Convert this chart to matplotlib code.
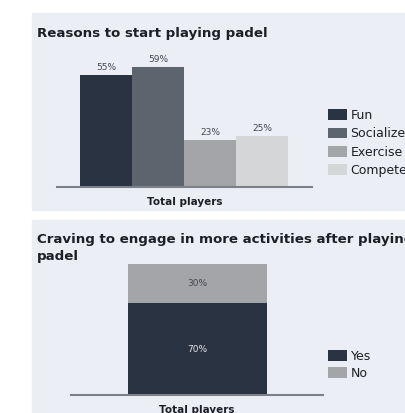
import matplotlib
matplotlib.use("Agg")
import matplotlib.pyplot as plt
from matplotlib.patches import Rectangle, Patch

plt.rcParams['font.family'] = ['DejaVu Sans']

# ---- data ----
reasons = ["Fun", "Socialize", "Exercise", "Compete"]
reason_values = [55, 59, 23, 25]
reason_colors = ["#2a3341", "#5c646e", "#a3a5a8", "#d5d6d7"]

craving_labels = ["Yes", "No"]
craving_values = [70, 30]
craving_colors = ["#2a3341", "#a3a5a8"]
group_label = "Total players"

W, H = 405, 413
fig = plt.figure(figsize=(W / 100, H / 100), dpi=100)
fig.patch.set_facecolor("white")

def fx(x):
    return x / W

def fy(y):
    return 1 - y / H

panel_bg = "#eceef5"
fig.patches.append(Rectangle((fx(32), fy(210)), fx(405) - fx(32), fy(13) - fy(210),
                             transform=fig.transFigure, color=panel_bg, zorder=-5))
fig.patches.append(Rectangle((fx(32), fy(413)), fx(405) - fx(32), fy(220) - fy(413),
                             transform=fig.transFigure, color=panel_bg, zorder=-5))

text_dark = "#1e1f24"
axis_col = "#7b8089"
label_col = "#45484f"

# ---- panel 1 ----
px_per = 2.03
ymax1 = 62
ax1 = fig.add_axes([fx(57), fy(187), fx(312) - fx(57), (ymax1 * px_per) / H])
ax1.set_facecolor("none")
xs = list(range(len(reasons)))
ax1.bar(xs, reason_values, width=1.0, color=reason_colors, zorder=2)
for x, v in zip(xs, reason_values):
    ax1.text(x, v + 1.6, f"{v}%", ha="center", va="bottom", fontsize=6.5, color=label_col)
ax1.set_xlim(-0.94, 3.96)
ax1.set_ylim(0, ymax1)
for s in ["top", "right", "left"]:
    ax1.spines[s].set_visible(False)
ax1.spines["bottom"].set_color(axis_col)
ax1.spines["bottom"].set_linewidth(1.5)
ax1.set_yticks([])
ax1.set_xticks([])
ax1.set_xlabel(group_label, fontsize=7.5, fontweight="bold", color=text_dark, labelpad=7)

fig.text(fx(37), fy(33), "Reasons to start playing padel", fontsize=9.6, fontweight="bold",
         color=text_dark, ha="left", va="center")

handles1 = [Patch(facecolor=c, edgecolor="none") for c in reason_colors]
ax1.legend(handles1, reasons, loc="upper left", bbox_to_anchor=(fx(328), fy(109)),
           bbox_transform=fig.transFigure, frameon=False, fontsize=9,
           handlelength=1.55, handleheight=0.95, labelspacing=0.42, handletextpad=0.25,
           borderpad=0, borderaxespad=0, labelcolor=text_dark)

# ---- panel 2 ----
px_per2 = 1.31
ax2 = fig.add_axes([fx(71), fy(395), fx(323) - fx(71), (100 * px_per2) / H])
ax2.set_facecolor("none")
bottom = 0
label_cols = ["#e6e6ea", label_col]
for v, c, lc in zip(craving_values, craving_colors, label_cols):
    ax2.bar([0], [v], bottom=bottom, width=1.0, color=c, zorder=2)
    ax2.text(0, bottom + v / 2, f"{v}%", ha="center", va="center", fontsize=6.5, color=lc)
    bottom += v
ax2.set_xlim(-0.91, 0.90)
ax2.set_ylim(0, 100)
for s in ["top", "right", "left"]:
    ax2.spines[s].set_visible(False)
ax2.spines["bottom"].set_color(axis_col)
ax2.spines["bottom"].set_linewidth(1.5)
ax2.set_yticks([])
ax2.set_xticks([])
ax2.set_xlabel(group_label, fontsize=7.5, fontweight="bold", color=text_dark, labelpad=7)

fig.text(fx(37), fy(233), "Craving to engage in more activities after playing\npadel",
         fontsize=9.6, fontweight="bold", color=text_dark, ha="left", va="top",
         linespacing=1.4)

handles2 = [Patch(facecolor=c, edgecolor="none") for c in craving_colors]
ax2.legend(handles2, craving_labels, loc="upper left", bbox_to_anchor=(fx(328), fy(350)),
           bbox_transform=fig.transFigure, frameon=False, fontsize=9,
           handlelength=1.55, handleheight=0.95, labelspacing=0.3, handletextpad=0.25,
           borderpad=0, borderaxespad=0, labelcolor=text_dark)

fig.savefig("out.png", dpi=100)
